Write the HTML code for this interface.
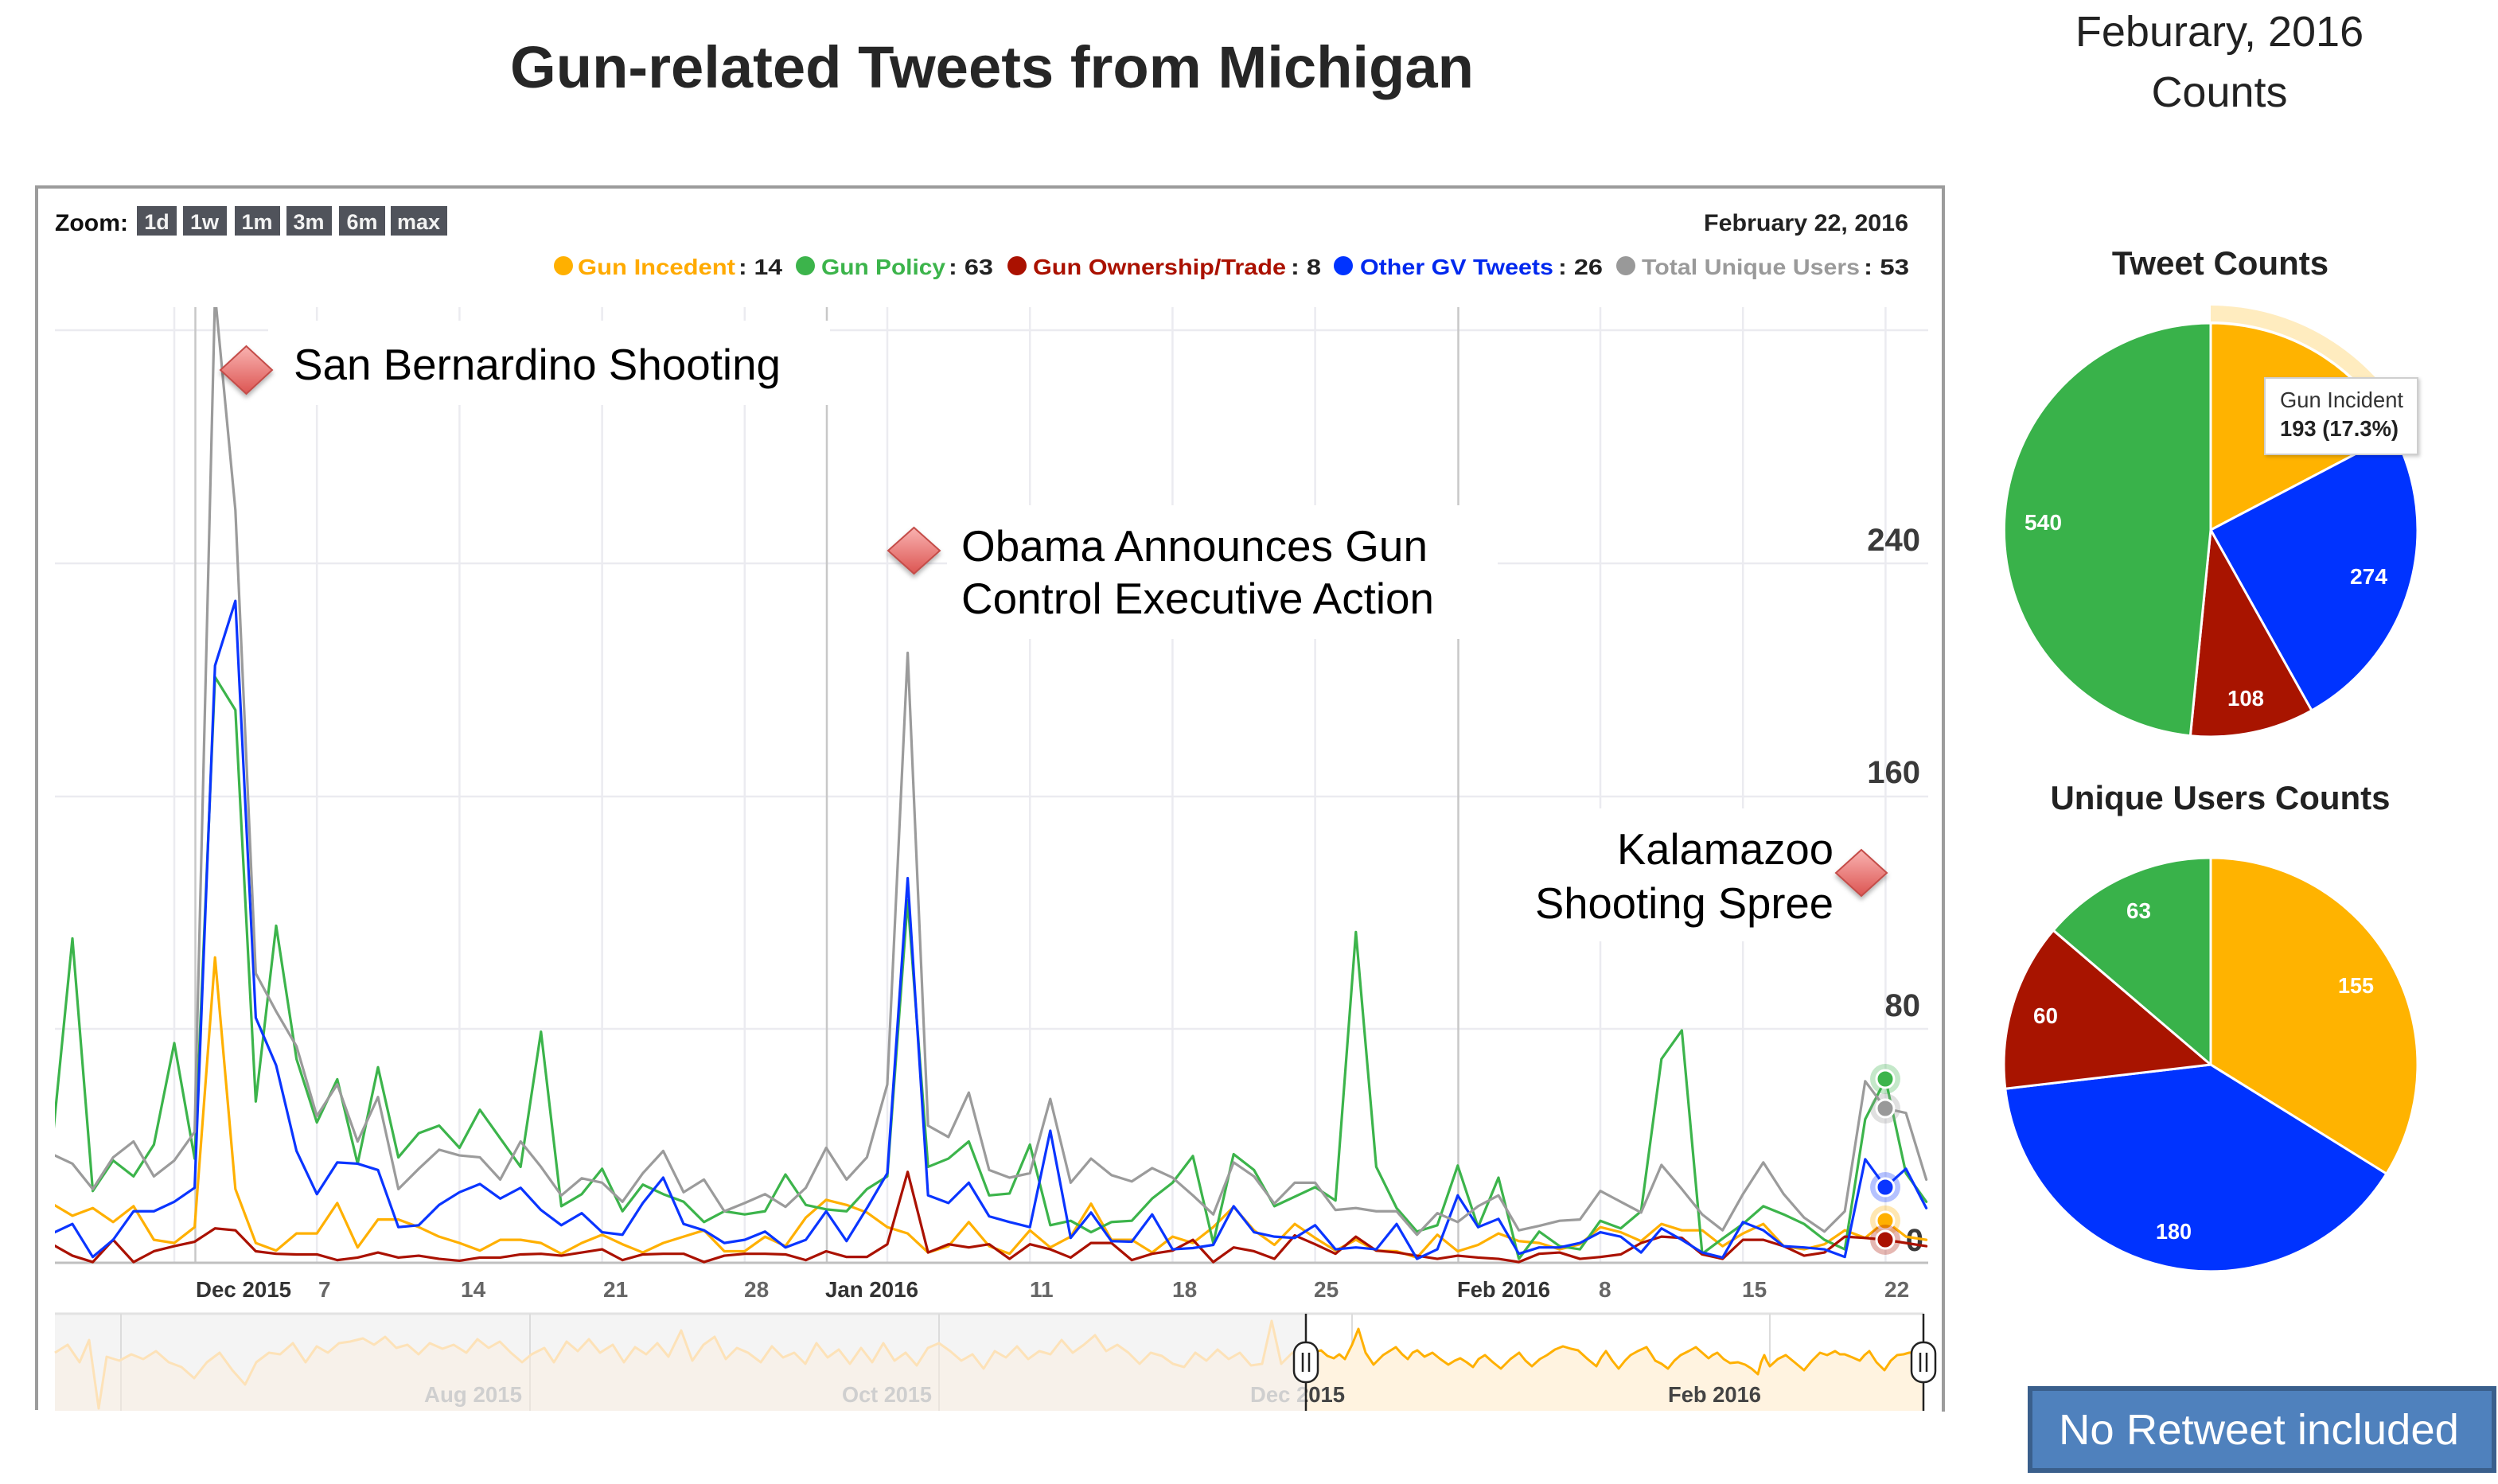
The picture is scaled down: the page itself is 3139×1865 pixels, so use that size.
<!DOCTYPE html>
<html>
<head>
<meta charset="utf-8">
<style>
html,body{margin:0;padding:0;background:#fff;}
svg{display:block;}
text{font-family:"Liberation Sans",Arial,sans-serif;}
</style>
</head>
<body>
<svg width="3139" height="1865" viewBox="0 0 3139 1865" xmlns="http://www.w3.org/2000/svg">
<defs>
  <clipPath id="plot"><rect x="69" y="386" width="2354" height="1202"/></clipPath>
  <clipPath id="sel"><rect x="1641" y="1640" width="780" height="140"/></clipPath>
  <linearGradient id="dg" x1="0" y1="0" x2="0" y2="1">
    <stop offset="0" stop-color="#f9b3b1"/>
    <stop offset="1" stop-color="#dc5552"/>
  </linearGradient>
  <filter id="sh" x="-30%" y="-30%" width="160%" height="170%">
    <feDropShadow dx="0" dy="4" stdDeviation="3" flood-color="#000" flood-opacity="0.3"/>
  </filter>
  <filter id="tsh" x="-10%" y="-10%" width="130%" height="130%">
    <feDropShadow dx="2" dy="2" stdDeviation="2" flood-color="#000" flood-opacity="0.2"/>
  </filter>
</defs>

<!-- Title -->
<text x="641" y="110" font-size="74" font-weight="bold" fill="#262626" textLength="1211" lengthAdjust="spacingAndGlyphs">Gun-related Tweets from Michigan</text>

<!-- Right header -->
<text x="2789" y="58" font-size="54" fill="#222" text-anchor="middle">Feburary, 2016</text>
<text x="2789" y="134" font-size="54" fill="#222" text-anchor="middle">Counts</text>

<!-- Chart container border -->
<polyline points="46,1772 46,235 2442,235 2442,1774" fill="none" stroke="#9c9c9c" stroke-width="4"/>

<!-- Zoom bar -->
<text x="69" y="290" font-size="30" font-weight="bold" fill="#111" textLength="92" lengthAdjust="spacingAndGlyphs">Zoom:</text>
<g font-size="27" font-weight="bold" fill="#f2f2f2" text-anchor="middle">
  <rect x="172" y="259" width="50" height="37" fill="#50535b"/>
  <rect x="230" y="259" width="55" height="37" fill="#50535b"/>
  <rect x="295" y="259" width="57" height="37" fill="#50535b"/>
  <rect x="360" y="259" width="57" height="37" fill="#50535b"/>
  <rect x="426" y="259" width="58" height="37" fill="#50535b"/>
  <rect x="491" y="259" width="71" height="37" fill="#50535b"/>
  <text x="197" y="288">1d</text>
  <text x="257" y="288">1w</text>
  <text x="323" y="288">1m</text>
  <text x="388" y="288">3m</text>
  <text x="455" y="288">6m</text>
  <text x="526" y="288">max</text>
</g>
<text x="2141" y="290" font-size="30" font-weight="bold" fill="#222" textLength="257" lengthAdjust="spacingAndGlyphs">February 22, 2016</text>

<!-- Legend -->
<g font-size="28" font-weight="bold">
  <circle cx="708" cy="334" r="12" fill="#ffb000"/>
  <text x="726" y="345" fill="#ffaa00" textLength="198" lengthAdjust="spacingAndGlyphs">Gun Incedent</text>
  <text x="928" y="345" fill="#222" textLength="55" lengthAdjust="spacingAndGlyphs">: 14</text>
  <circle cx="1012" cy="334" r="12" fill="#3cb44b"/>
  <text x="1032" y="345" fill="#3cb44b" textLength="156" lengthAdjust="spacingAndGlyphs">Gun Policy</text>
  <text x="1192" y="345" fill="#222" textLength="56" lengthAdjust="spacingAndGlyphs">: 63</text>
  <circle cx="1278" cy="334" r="12" fill="#aa1100"/>
  <text x="1298" y="345" fill="#aa1100" textLength="318" lengthAdjust="spacingAndGlyphs">Gun Ownership/Trade</text>
  <text x="1622" y="345" fill="#222" textLength="38" lengthAdjust="spacingAndGlyphs">: 8</text>
  <circle cx="1688" cy="334" r="12" fill="#0033ff"/>
  <text x="1709" y="345" fill="#0028ee" textLength="243" lengthAdjust="spacingAndGlyphs">Other GV Tweets</text>
  <text x="1958" y="345" fill="#222" textLength="56" lengthAdjust="spacingAndGlyphs">: 26</text>
  <circle cx="2043" cy="334" r="12" fill="#999"/>
  <text x="2063" y="345" fill="#9a9a9a" textLength="274" lengthAdjust="spacingAndGlyphs">Total Unique Users</text>
  <text x="2342" y="345" fill="#222" textLength="57" lengthAdjust="spacingAndGlyphs">: 53</text>
</g>

<!-- Plot grid -->
<g stroke="#ebebf0" stroke-width="2.5">
  <line x1="219" y1="386" x2="219" y2="1586"/>
  <line x1="398.2" y1="386" x2="398.2" y2="1586"/>
  <line x1="577.4" y1="386" x2="577.4" y2="1586"/>
  <line x1="756.6" y1="386" x2="756.6" y2="1586"/>
  <line x1="935.8" y1="386" x2="935.8" y2="1586"/>
  <line x1="1115" y1="386" x2="1115" y2="1586"/>
  <line x1="1294.2" y1="386" x2="1294.2" y2="1586"/>
  <line x1="1473.4" y1="386" x2="1473.4" y2="1586"/>
  <line x1="1652.6" y1="386" x2="1652.6" y2="1586"/>
  <line x1="2011" y1="386" x2="2011" y2="1586"/>
  <line x1="2190.2" y1="386" x2="2190.2" y2="1586"/>
  <line x1="2369.4" y1="386" x2="2369.4" y2="1586"/>
  <line x1="69" y1="415" x2="2423" y2="415"/>
  <line x1="69" y1="708" x2="2423" y2="708"/>
  <line x1="69" y1="1001" x2="2423" y2="1001"/>
  <line x1="69" y1="1293" x2="2423" y2="1293"/>
</g>
<g stroke="#c8c8c8" stroke-width="2.5">
  <line x1="245.5" y1="386" x2="245.5" y2="1586"/>
  <line x1="1039" y1="386" x2="1039" y2="1586"/>
  <line x1="1832.5" y1="386" x2="1832.5" y2="1586"/>
</g>
<line x1="69" y1="1587" x2="2423" y2="1587" stroke="#c0c0c0" stroke-width="3"/>

<!-- Annotation backgrounds -->
<rect x="337" y="403" width="706" height="106" fill="#fff"/>
<rect x="1190" y="635" width="692" height="168" fill="#fff"/>
<rect x="1915" y="1016" width="407" height="167" fill="#fff"/>

<!-- Y labels -->
<g font-size="40" font-weight="bold" fill="#3a3a3a" text-anchor="end">
  <text x="2413" y="692">240</text>
  <text x="2413" y="984">160</text>
  <text x="2413" y="1277">80</text>
  <text x="2417" y="1572">0</text>
</g>

<!-- Series -->
<g clip-path="url(#plot)">
<g transform="translate(219,370) scale(25.6,0.7974)" fill="none" stroke-linejoin="round" stroke-linecap="round">
<polyline vector-effect="non-scaling-stroke" stroke="#ffb000" stroke-width="3.2" points="-6,1433 -5,1452 -4,1440 -3,1462 -2,1437 -1,1490 0,1495 1,1470 2,1045 3,1410 4,1495 5,1507 6,1480 7,1480 8,1432 9,1502 10,1458 11,1458 12,1470 13,1485 14,1495 15,1507 16,1490 17,1490 18,1495 19,1512 20,1495 21,1482 22,1497 23,1510 24,1495 25,1485 26,1475 27,1508 28,1508 29,1485 30,1500 31,1455 32,1427 33,1435 34,1447 35,1470 36,1480 37,1510 38,1500 39,1462 40,1500 41,1512 42,1475 43,1502 44,1485 45,1433 46,1490 47,1490 48,1510 49,1485 50,1495 51,1470 52,1438 53,1475 54,1498 55,1465 56,1487 57,1507 58,1490 59,1507 60,1508 61,1518 62,1482 63,1508 64,1498 65,1480 66,1492 67,1495 68,1505 69,1497 70,1470 71,1478 72,1492 73,1465 74,1475 75,1475 76,1500 77,1480 78,1465 79,1500 80,1505 81,1497 82,1475 83,1487 84,1460 85,1485 86,1490"/>
<polyline vector-effect="non-scaling-stroke" stroke="#3cb44b" stroke-width="3.2" points="-6,1340 -5,1015 -4,1413 -3,1365 -2,1390 -1,1340 0,1180 1,1362 2,603 3,655 4,1272 5,995 6,1205 7,1305 8,1237 9,1370 10,1218 11,1360 12,1322 13,1310 14,1345 15,1285 16,1330 17,1375 18,1162 19,1437 20,1418 21,1378 22,1445 23,1403 24,1418 25,1430 26,1462 27,1445 28,1450 29,1445 30,1387 31,1435 32,1442 33,1445 34,1410 35,1390 36,955 37,1375 38,1362 39,1335 40,1420 41,1417 42,1340 43,1467 44,1460 45,1478 46,1462 47,1460 48,1425 49,1400 50,1358 51,1495 52,1355 53,1380 54,1437 55,1422 56,1407 57,1428 58,1005 59,1375 60,1440 61,1477 62,1467 63,1373 64,1470 65,1392 66,1520 67,1477 68,1500 69,1505 70,1460 71,1472 72,1445 73,1205 74,1160 75,1512 76,1488 77,1465 78,1437 79,1450 80,1465 81,1490 82,1505 83,1300 84,1237 85,1385 86,1430"/>
<polyline vector-effect="non-scaling-stroke" stroke="#aa1100" stroke-width="3.2" points="-6,1497 -5,1515 -4,1525 -3,1490 -2,1525 -1,1508 0,1500 1,1493 2,1472 3,1475 4,1508 5,1512 6,1513 7,1513 8,1522 9,1518 10,1510 11,1518 12,1515 13,1520 14,1523 15,1518 16,1518 17,1513 18,1512 19,1515 20,1510 21,1505 22,1522 23,1513 24,1512 25,1512 26,1525 27,1515 28,1512 29,1512 30,1513 31,1522 32,1508 33,1517 34,1517 35,1497 36,1383 37,1510 38,1497 39,1502 40,1497 41,1520 42,1497 43,1505 44,1518 45,1495 46,1495 47,1522 48,1512 49,1507 50,1490 51,1525 52,1502 53,1508 54,1520 55,1483 56,1497 57,1512 58,1485 59,1507 60,1510 61,1515 62,1520 63,1515 64,1518 65,1520 66,1525 67,1512 68,1510 69,1520 70,1517 71,1513 72,1495 73,1485 74,1487 75,1513 76,1520 77,1490 78,1490 79,1500 80,1515 81,1510 82,1485 83,1487 84,1490 85,1495 86,1500"/>
<polyline vector-effect="non-scaling-stroke" stroke="#0a35ff" stroke-width="3.2" points="-6,1480 -5,1465 -4,1517 -3,1490 -2,1445 -1,1445 0,1430 1,1408 2,585 3,483 4,1140 5,1215 6,1350 7,1418 8,1368 9,1370 10,1380 11,1470 12,1467 13,1435 14,1415 15,1402 16,1425 17,1408 18,1443 19,1467 20,1448 21,1478 22,1482 23,1432 24,1392 25,1465 26,1475 27,1495 28,1490 29,1477 30,1502 31,1490 32,1445 33,1492 34,1440 35,1385 36,920 37,1420 38,1432 39,1400 40,1453 41,1462 42,1470 43,1318 44,1487 45,1447 46,1492 47,1493 48,1450 49,1505 50,1503 51,1498 52,1437 53,1478 54,1485 55,1487 56,1467 57,1505 58,1502 59,1505 60,1465 61,1520 62,1505 63,1420 64,1470 65,1457 66,1512 67,1502 68,1502 69,1495 70,1478 71,1485 72,1510 73,1472 74,1490 75,1510 76,1518 77,1462 78,1475 79,1500 80,1502 81,1505 82,1517 83,1363 84,1407 85,1378 86,1440"/>
<polyline vector-effect="non-scaling-stroke" stroke="#9b9b9b" stroke-width="3.2" points="-6,1355 -5,1370 -4,1410 -3,1360 -2,1335 -1,1390 0,1365 1,1320 2,0 3,340 4,1070 5,1130 6,1185 7,1295 8,1245 9,1335 10,1265 11,1410 12,1378 13,1348 14,1357 15,1360 16,1395 17,1335 18,1375 19,1420 20,1393 21,1400 22,1430 23,1385 24,1350 25,1415 26,1395 27,1445 28,1432 29,1418 30,1438 31,1408 32,1345 33,1395 34,1360 35,1245 36,565 37,1310 38,1328 39,1258 40,1380 41,1392 42,1385 43,1268 44,1400 45,1362 46,1388 47,1398 48,1377 49,1392 50,1420 51,1450 52,1368 53,1390 54,1433 55,1400 56,1400 57,1443 58,1440 59,1445 60,1445 61,1482 62,1448 63,1462 64,1437 65,1420 66,1475 67,1468 68,1460 69,1458 70,1413 71,1430 72,1447 73,1372 74,1410 75,1450 76,1475 77,1418 78,1368 79,1418 80,1455 81,1477 82,1445 83,1240 84,1283 85,1290 86,1395"/>
</g>
</g>

<!-- Hover markers -->
<g>
  <circle cx="2369" cy="1356" r="19" fill="#3cb44b" opacity="0.3"/>
  <circle cx="2369" cy="1356" r="11" fill="#3cb44b" stroke="#fff" stroke-width="3"/>
  <circle cx="2369" cy="1393" r="19" fill="#999" opacity="0.3"/>
  <circle cx="2369" cy="1393" r="11" fill="#999" stroke="#fff" stroke-width="3"/>
  <circle cx="2369" cy="1492" r="19" fill="#0a35ff" opacity="0.3"/>
  <circle cx="2369" cy="1492" r="11" fill="#0a35ff" stroke="#fff" stroke-width="3"/>
  <circle cx="2369" cy="1534" r="19" fill="#ffb000" opacity="0.3"/>
  <circle cx="2369" cy="1534" r="11" fill="#ffb000" stroke="#fff" stroke-width="3"/>
  <circle cx="2369" cy="1558" r="19" fill="#aa1100" opacity="0.3"/>
  <circle cx="2369" cy="1558" r="11" fill="#aa1100" stroke="#fff" stroke-width="3"/>
</g>

<!-- Annotations -->
<g filter="url(#sh)" fill="url(#dg)" stroke="#c44d4a" stroke-width="2">
  <polygon points="309.5,435 342,465 309.5,495 277,465"/>
  <polygon points="1148.5,663 1181,692 1148.5,721 1116,692"/>
  <polygon points="2339,1068 2371,1097 2339,1126 2307,1097"/>
</g>
<g font-size="55" fill="#000">
  <text x="369" y="477" textLength="612" lengthAdjust="spacingAndGlyphs">San Bernardino Shooting</text>
  <text x="1208" y="705" textLength="586" lengthAdjust="spacingAndGlyphs">Obama Announces Gun</text>
  <text x="1208" y="771" textLength="594" lengthAdjust="spacingAndGlyphs">Control Executive Action</text>
  <text x="2032" y="1086" textLength="272" lengthAdjust="spacingAndGlyphs">Kalamazoo</text>
  <text x="1929" y="1154" textLength="375" lengthAdjust="spacingAndGlyphs">Shooting Spree</text>
</g>

<!-- X axis labels -->
<g font-size="28" font-weight="bold">
  <text x="246" y="1630" fill="#333" textLength="120" lengthAdjust="spacingAndGlyphs">Dec 2015</text>
  <text x="400" y="1630" fill="#666">7</text>
  <text x="579" y="1630" fill="#666">14</text>
  <text x="758" y="1630" fill="#666">21</text>
  <text x="935" y="1630" fill="#666">28</text>
  <text x="1037" y="1630" fill="#333" textLength="117" lengthAdjust="spacingAndGlyphs">Jan 2016</text>
  <text x="1294" y="1630" fill="#666">11</text>
  <text x="1473" y="1630" fill="#666">18</text>
  <text x="1651" y="1630" fill="#666">25</text>
  <text x="1831" y="1630" fill="#333" textLength="117" lengthAdjust="spacingAndGlyphs">Feb 2016</text>
  <text x="2009" y="1630" fill="#666">8</text>
  <text x="2189" y="1630" fill="#666">15</text>
  <text x="2368" y="1630" fill="#666">22</text>
</g>

<!-- Navigator -->
<rect x="69" y="1651" width="1572" height="122" fill="#f4f4f4"/>
<rect x="1641" y="1651" width="776" height="122" fill="#fff"/>
<line x1="69" y1="1651" x2="2417" y2="1651" stroke="#e2e2e2" stroke-width="3"/>
<g stroke="#dcdcdc" stroke-width="2">
  <line x1="152" y1="1651" x2="152" y2="1773"/>
  <line x1="666" y1="1651" x2="666" y2="1773"/>
  <line x1="1180" y1="1651" x2="1180" y2="1773"/>
  <line x1="1699" y1="1651" x2="1699" y2="1773"/>
  <line x1="2224" y1="1651" x2="2224" y2="1773"/>
</g>
<!-- masked nav series -->
<polygon fill="#fbeedd" opacity="0.45" points="69,1773 69,1700 85,1690 100,1712 112,1684 124,1770 134,1705 150,1710 165,1702 180,1708 196,1698 212,1712 228,1718 244,1732 260,1712 276,1700 292,1722 308,1740 322,1712 338,1700 352,1702 368,1688 384,1712 398,1692 412,1700 426,1688 440,1686 456,1682 470,1690 484,1680 498,1694 512,1690 526,1702 540,1688 556,1695 570,1690 586,1700 600,1683 614,1694 628,1686 642,1700 656,1712 668,1702 684,1694 696,1712 712,1686 726,1698 740,1683 754,1700 770,1690 784,1712 798,1693 812,1702 826,1688 840,1705 856,1672 870,1710 884,1690 898,1680 912,1708 926,1694 940,1700 956,1712 970,1692 984,1706 998,1700 1012,1714 1026,1688 1040,1706 1054,1696 1068,1714 1082,1694 1096,1712 1110,1688 1124,1710 1138,1700 1152,1716 1166,1694 1180,1688 1194,1698 1208,1710 1222,1702 1236,1720 1250,1698 1264,1706 1278,1692 1292,1708 1306,1698 1320,1702 1334,1684 1348,1700 1362,1690 1376,1678 1390,1698 1404,1690 1418,1700 1432,1714 1446,1700 1460,1704 1474,1714 1488,1718 1502,1700 1516,1710 1530,1696 1544,1708 1558,1700 1572,1716 1586,1714 1598,1660 1610,1714 1624,1700 1641,1695 1641,1773"/>
<polyline fill="none" stroke="#fde2b8" stroke-width="3" stroke-linejoin="round" points="69,1700 85,1690 100,1712 112,1684 124,1770 134,1705 150,1710 165,1702 180,1708 196,1698 212,1712 228,1718 244,1732 260,1712 276,1700 292,1722 308,1740 322,1712 338,1700 352,1702 368,1688 384,1712 398,1692 412,1700 426,1688 440,1686 456,1682 470,1690 484,1680 498,1694 512,1690 526,1702 540,1688 556,1695 570,1690 586,1700 600,1683 614,1694 628,1686 642,1700 656,1712 668,1702 684,1694 696,1712 712,1686 726,1698 740,1683 754,1700 770,1690 784,1712 798,1693 812,1702 826,1688 840,1705 856,1672 870,1710 884,1690 898,1680 912,1708 926,1694 940,1700 956,1712 970,1692 984,1706 998,1700 1012,1714 1026,1688 1040,1706 1054,1696 1068,1714 1082,1694 1096,1712 1110,1688 1124,1710 1138,1700 1152,1716 1166,1694 1180,1688 1194,1698 1208,1710 1222,1702 1236,1720 1250,1698 1264,1706 1278,1692 1292,1708 1306,1698 1320,1702 1334,1684 1348,1700 1362,1690 1376,1678 1390,1698 1404,1690 1418,1700 1432,1714 1446,1700 1460,1704 1474,1714 1488,1718 1502,1700 1516,1710 1530,1696 1544,1708 1558,1700 1572,1716 1586,1714 1598,1660 1610,1714 1624,1700 1641,1695"/>
<!-- selected nav series -->
<polygon fill="#fff3e0" points="1641,1773 1641,1693 1650,1700 1660,1697 1668,1704 1676,1707 1683,1702 1690,1708 1699,1690 1707,1670 1716,1700 1726,1715 1738,1703 1746,1698 1754,1693 1762,1702 1769,1708 1775,1700 1781,1697 1790,1705 1800,1700 1810,1708 1820,1715 1828,1710 1835,1707 1843,1712 1851,1718 1858,1708 1866,1703 1876,1712 1886,1720 1898,1708 1909,1700 1917,1710 1925,1717 1935,1708 1944,1703 1954,1696 1964,1692 1974,1695 1983,1697 1995,1708 2006,1717 2012,1706 2018,1698 2026,1710 2034,1720 2042,1710 2049,1703 2058,1698 2069,1693 2075,1702 2080,1710 2088,1714 2096,1720 2104,1710 2112,1703 2122,1698 2131,1693 2139,1700 2147,1707 2152,1703 2158,1700 2166,1708 2174,1713 2184,1712 2193,1715 2201,1720 2209,1727 2213,1712 2217,1703 2220,1710 2224,1717 2234,1708 2244,1703 2255,1712 2267,1722 2277,1710 2287,1700 2296,1703 2306,1698 2312,1702 2318,1702 2328,1706 2337,1710 2343,1703 2349,1698 2358,1712 2368,1722 2376,1710 2384,1703 2392,1702 2399,1700 2408,1699 2417,1697 2417,1773"/>
<polyline fill="none" stroke="#ffb000" stroke-width="3" stroke-linejoin="round" points="1641,1693 1650,1700 1660,1697 1668,1704 1676,1707 1683,1702 1690,1708 1699,1690 1707,1670 1716,1700 1726,1715 1738,1703 1746,1698 1754,1693 1762,1702 1769,1708 1775,1700 1781,1697 1790,1705 1800,1700 1810,1708 1820,1715 1828,1710 1835,1707 1843,1712 1851,1718 1858,1708 1866,1703 1876,1712 1886,1720 1898,1708 1909,1700 1917,1710 1925,1717 1935,1708 1944,1703 1954,1696 1964,1692 1974,1695 1983,1697 1995,1708 2006,1717 2012,1706 2018,1698 2026,1710 2034,1720 2042,1710 2049,1703 2058,1698 2069,1693 2075,1702 2080,1710 2088,1714 2096,1720 2104,1710 2112,1703 2122,1698 2131,1693 2139,1700 2147,1707 2152,1703 2158,1700 2166,1708 2174,1713 2184,1712 2193,1715 2201,1720 2209,1727 2213,1712 2217,1703 2220,1710 2224,1717 2234,1708 2244,1703 2255,1712 2267,1722 2277,1710 2287,1700 2296,1703 2306,1698 2312,1702 2318,1702 2328,1706 2337,1710 2343,1703 2349,1698 2358,1712 2368,1722 2376,1710 2384,1703 2392,1702 2399,1700 2408,1699 2417,1697"/>
<!-- navigator labels -->
<g font-size="28" font-weight="bold">
  <text x="533" y="1762" fill="#cfcfcf" textLength="123" lengthAdjust="spacingAndGlyphs">Aug 2015</text>
  <text x="1058" y="1762" fill="#cfcfcf" textLength="113" lengthAdjust="spacingAndGlyphs">Oct 2015</text>
  <text x="1571" y="1762" fill="#cfcfcf" textLength="119" lengthAdjust="spacingAndGlyphs">Dec 2015</text>
  <text x="1571" y="1762" fill="#444" clip-path="url(#sel)" textLength="119" lengthAdjust="spacingAndGlyphs">Dec 2015</text>
  <text x="2096" y="1762" fill="#444" textLength="117" lengthAdjust="spacingAndGlyphs">Feb 2016</text>
</g>
<!-- handles -->
<g stroke="#222" stroke-width="2.5">
  <line x1="1641" y1="1651" x2="1641" y2="1773"/>
  <line x1="2417" y1="1651" x2="2417" y2="1773"/>
  <rect x="1626" y="1687" width="30" height="50" rx="14" fill="#fff"/>
  <rect x="2402" y="1687" width="30" height="50" rx="14" fill="#fff"/>
  <line x1="1637" y1="1700" x2="1637" y2="1724"/>
  <line x1="1645" y1="1700" x2="1645" y2="1724"/>
  <line x1="2413" y1="1700" x2="2413" y2="1724"/>
  <line x1="2421" y1="1700" x2="2421" y2="1724"/>
</g>

<!-- Pie 1: Tweet Counts -->
<text x="2790" y="345" font-size="42" font-weight="bold" fill="#222" text-anchor="middle">Tweet Counts</text>
<path d="M2778,384 A282,282 0 0 1 3027.7,535 L3010,544.2 A262,262 0 0 0 2778,404 Z" fill="#ffb300" opacity="0.25"/>
<g stroke="#fff" stroke-width="3" stroke-linejoin="round">
  <path d="M2778,666 L2778,406 A260,260 0 0 1 3008.2,545.2 Z" fill="#ffb300"/>
  <path d="M2778,666 L3008.2,545.2 A260,260 0 0 1 2904.9,892.9 Z" fill="#0033ff"/>
  <path d="M2778,666 L2904.9,892.9 A260,260 0 0 1 2752.4,924.7 Z" fill="#a81400"/>
  <path d="M2778,666 L2752.4,924.7 A260,260 0 0 1 2778,406 Z" fill="#39b24a"/>
</g>
<g font-size="28" font-weight="bold" fill="#fff">
  <text x="2544" y="666" textLength="47" lengthAdjust="spacingAndGlyphs">540</text>
  <text x="2953" y="734" textLength="47" lengthAdjust="spacingAndGlyphs">274</text>
  <text x="2799" y="887" textLength="46" lengthAdjust="spacingAndGlyphs">108</text>
</g>
<!-- tooltip -->
<rect x="2846" y="475" width="192" height="96" fill="#fff" stroke="#cfcfcf" stroke-width="2" filter="url(#tsh)"/>
<text x="2865" y="512" font-size="28" fill="#333" textLength="155" lengthAdjust="spacingAndGlyphs">Gun Incident</text>
<text x="2865" y="548" font-size="28" font-weight="bold" fill="#222" textLength="149" lengthAdjust="spacingAndGlyphs">193 (17.3%)</text>

<!-- Pie 2: Unique Users Counts -->
<text x="2790" y="1017" font-size="42" font-weight="bold" fill="#222" text-anchor="middle">Unique Users Counts</text>
<g stroke="#fff" stroke-width="3" stroke-linejoin="round">
  <path d="M2778,1338 L2778,1078 A260,260 0 0 1 2998.9,1475.1 Z" fill="#ffb300"/>
  <path d="M2778,1338 L2998.9,1475.1 A260,260 0 0 1 2519.8,1368.2 Z" fill="#0033ff"/>
  <path d="M2778,1338 L2519.8,1368.2 A260,260 0 0 1 2580.2,1169.2 Z" fill="#a81400"/>
  <path d="M2778,1338 L2580.2,1169.2 A260,260 0 0 1 2778,1078 Z" fill="#39b24a"/>
</g>
<g font-size="28" font-weight="bold" fill="#fff">
  <text x="2938" y="1248" textLength="45" lengthAdjust="spacingAndGlyphs">155</text>
  <text x="2709" y="1557" textLength="45" lengthAdjust="spacingAndGlyphs">180</text>
  <text x="2555" y="1286" textLength="31" lengthAdjust="spacingAndGlyphs">60</text>
  <text x="2672" y="1154" textLength="31" lengthAdjust="spacingAndGlyphs">63</text>
</g>

<!-- Button -->
<rect x="2551" y="1745" width="583" height="103" fill="#4f81bd" stroke="#3a5f8c" stroke-width="6"/>
<text x="2587" y="1815" font-size="54" fill="#fff" textLength="503" lengthAdjust="spacingAndGlyphs">No Retweet included</text>
</svg>
</body>
</html>
